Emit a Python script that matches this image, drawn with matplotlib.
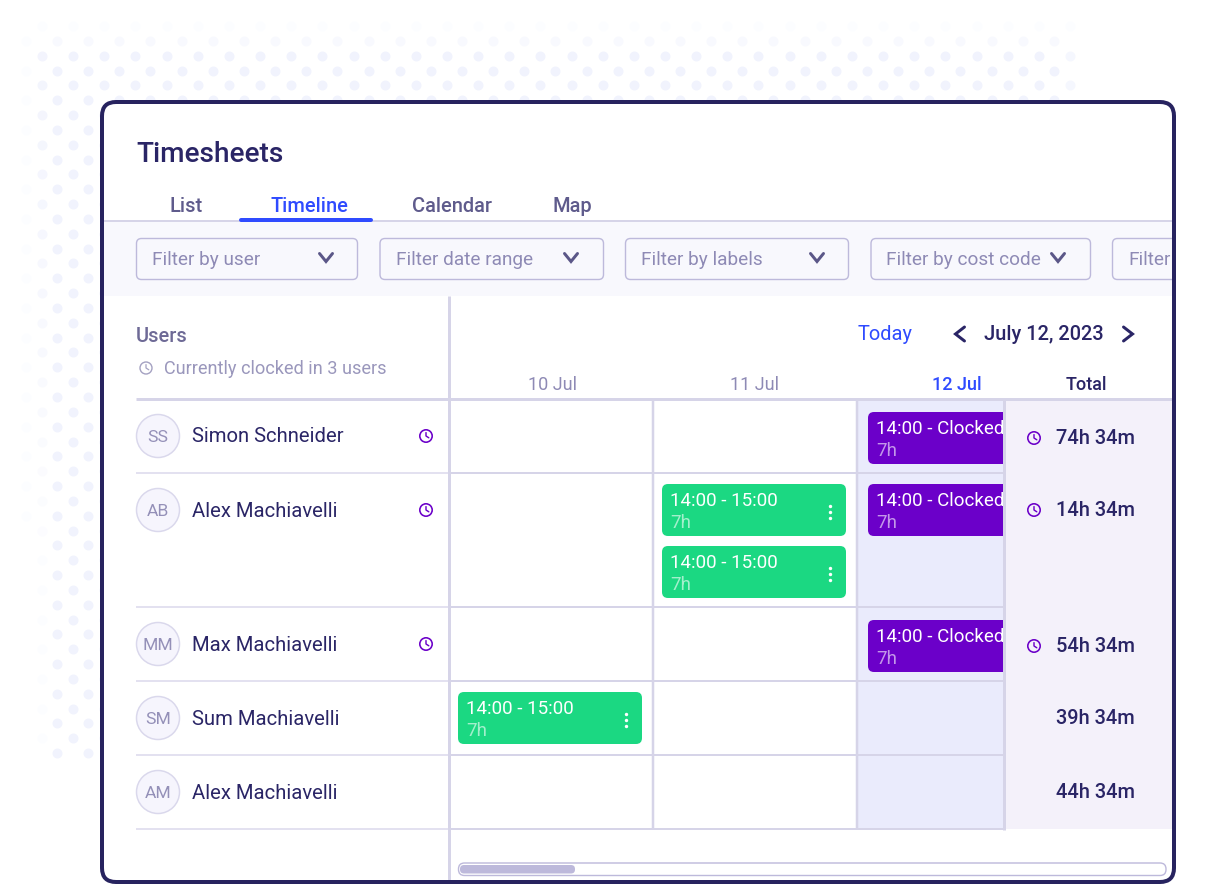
import matplotlib
matplotlib.use("Agg")
import matplotlib.pyplot as plt
from matplotlib.patches import FancyBboxPatch, Rectangle, Circle
from matplotlib.lines import Line2D
from matplotlib.transforms import Bbox, TransformedBbox

plt.rcParams['font.family'] = ['Roboto', 'DejaVu Sans']

# ---- content ----
title = "Timesheets"
tabs = ["List", "Timeline", "Calendar", "Map"]
active_tab = "Timeline"
filters = ["Filter by user", "Filter date range", "Filter by labels", "Filter by cost code", "Filter"]
users = ["Simon Schneider", "Alex Machiavelli", "Max Machiavelli", "Sum Machiavelli", "Alex Machiavelli"]
initials = ["SS", "AB", "MM", "SM", "AM"]
totals = ["74h 34m", "14h 34m", "54h 34m", "39h 34m", "44h 34m"]
clocked_in = [True, True, True, False, False]
days = ["10 Jul", "11 Jul", "12 Jul"]
today_day = "12 Jul"
date_label = "July 12, 2023"
green_label = "14:00 - 15:00"
purple_label = "14:00 - Clocked"
duration_label = "7h"

# ---- colours ----
NAVY = "#27235F"
INK = "#2A2566"
BLUE = "#2F4BFF"
TAB = "#5F5B8C"
MUTED = "#8E8AB5"
LINE = "#D6D4E8"
LINE2 = "#E3E1F0"
BOX = "#BDB9DB"
PANEL = "#F8F8FD"
PURPLE = "#6B00C9"
GREEN = "#1BD882"
TODAY_BG = "#EAEBFC"
TOTAL_BG = "#F4F1FA"

W, H = 1230, 884
fig = plt.figure(figsize=(W / 100, H / 100), dpi=100, facecolor="white")
ax = fig.add_axes([0, 0, 1, 1])
ax.set_xlim(0, W)
ax.set_ylim(H, 0)
ax.axis("off")


def pt(px):
    return px * 0.72


def rbox(x0, y0, x1, y1, r, fc="none", ec="none", lw=0, z=2, clip=None):
    p = FancyBboxPatch((x0 + r, y0 + r), x1 - x0 - 2 * r, y1 - y0 - 2 * r,
                       boxstyle=f"round,pad={r},rounding_size={r}",
                       fc=fc, ec=ec, lw=pt(lw), zorder=z)
    ax.add_patch(p)
    if clip is not None:
        p.set_clip_box(clip)
    return p


def rect(x0, y0, x1, y1, fc, z=1):
    ax.add_patch(Rectangle((x0, y0), x1 - x0, y1 - y0, fc=fc, ec="none", zorder=z))


def hline(y, x0, x1, c, lw, z=3):
    ax.add_line(Line2D([x0, x1], [y, y], color=c, lw=pt(lw), zorder=z, solid_capstyle="butt"))


def vline(x, y0, y1, c, lw, z=3):
    ax.add_line(Line2D([x, x], [y0, y1], color=c, lw=pt(lw), zorder=z, solid_capstyle="butt"))


def txt(x, y, s, px, c, ha="left", weight="normal", z=6, alpha=None, clip=None):
    t = ax.text(x, y, s, fontsize=pt(px), color=c, ha=ha, va="center_baseline",
                fontweight=weight, zorder=z, alpha=alpha)
    if clip is not None:
        t.set_clip_on(True)
        t.set_clip_box(clip)
    return t


def chevron(cx, cy, w, h, direction, c, lw=3):
    if direction == "down":
        xs, ys = [cx - w, cx, cx + w], [cy - h, cy + h, cy - h]
    elif direction == "left":
        xs, ys = [cx + h, cx - h, cx + h], [cy - w, cy, cy + w]
    else:
        xs, ys = [cx - h, cx + h, cx - h], [cy - w, cy, cy + w]
    ax.add_line(Line2D(xs, ys, color=c, lw=pt(lw), zorder=6,
                       solid_capstyle="round", solid_joinstyle="miter"))


def clock(cx, cy, c, r=6.2, lw=1.6):
    ax.add_patch(Circle((cx, cy), r, fc="none", ec=c, lw=pt(lw), zorder=6))
    ax.add_line(Line2D([cx, cx, cx + 2.8], [cy - 3.4, cy, cy + 1.8], color=c,
                       lw=pt(lw * 0.9), zorder=6, solid_capstyle="round"))


def kebab(cx, cy):
    ax.scatter([cx] * 3, [cy - 6, cy, cy + 6], s=pt(3.4) ** 2, c="white",
               linewidths=0, zorder=6)


# ---- dotted backdrop ----
for i in range(50):
    y = 26 + i * 14.84
    base = 42 if i % 2 == 0 else 57
    for j in range(-1, 34):
        x = base + j * 31.15
        if x > 1075 or x < 20:
            continue
        a = 1.0
        if i == 0:
            a = 0.2
        elif i == 1:
            a = 0.5
        if x < 30:
            a = min(a, 0.18)
        elif x < 45:
            a = min(a, 0.9 - 0.7 * (y - 40) / 520 if y < 560 else 0.2)
        if x > 1060:
            a = min(a, 0.7)
        if x < 30 and y > 520:
            continue
        r = 241 + (255 - 241) * (1 - a)
        g = 243 + (255 - 243) * (1 - a)
        b = 253 + (255 - 253) * (1 - a)
        ax.scatter([x], [y], s=pt(10) ** 2, color=(r / 255, g / 255, b / 255),
                   linewidths=0, zorder=0.5)

# ---- card ----
rbox(102, 102, 1174, 882, 14, fc="white", ec="none", z=1)
inner_box = TransformedBbox(Bbox([[104, 104], [1172, 880]]), ax.transData)

# header
txt(136, 152, title, 28, INK, weight=500)
for label, cx in zip(tabs, [186, 309, 452, 572]):
    on = label == active_tab
    txt(cx, 205, label, 20, BLUE if on else TAB, ha="center", weight=500)

# filter band
rect(104, 222, 1172, 296, PANEL, z=1.2)
hline(221, 104, 1172, LINE, 2)
ax.add_line(Line2D([241, 371], [220, 220], color=BLUE, lw=pt(4), zorder=4, solid_capstyle="round"))

boxes = [(136.5, 357.5), (380, 603.5), (625.5, 848.5), (871, 1090.5), (1112.5, 1230)]
chevs = [326, 571, 817, 1058, None]
for label, (x0, x1), ch in zip(filters, boxes, chevs):
    rbox(x0, 238.5, x1, 279.5, 5, fc=PANEL, ec=BOX, lw=1.4, z=2, clip=inner_box)
    txt(x0 + 15.5, 258.4, label, 19, MUTED, clip=inner_box)
    if ch is not None:
        chevron(ch, 257.5, 6.5, 4, "down", "#5B5788")

# table backgrounds
rect(858, 400, 1004, 829, TODAY_BG, z=1.2)
rect(1006, 400, 1172, 829, TOTAL_BG, z=1.2)

# left header
txt(136, 335, "Users", 20, "#6E6A96", weight=500)
clock(146, 368, "#A5A2C2", r=6, lw=1.4)
txt(164, 367.4, "Currently clocked in 3 users", 18.2, "#9A97BC")

# date navigation
txt(885, 333, "Today", 20, BLUE, ha="center")
chevron(960, 334, 7, 4.5, "left", INK)
chevron(1128, 334, 7, 4.5, "right", INK)
txt(1044, 333, date_label, 20, INK, ha="center", weight=500)
for label, cx in zip(days, [552, 754, 957]):
    on = label == today_day
    txt(cx, 383.4, label, 18, BLUE if on else MUTED, ha="center", weight=500 if on else "normal")
txt(1086, 383.4, "Total", 18, INK, ha="center", weight=500)

# grid lines
row_lines = [473, 607, 681, 755, 829]
hline(399, 136, 1172, LINE, 3)
for y in row_lines:
    hline(y, 136, 449, LINE2, 2)
    hline(y, 451, 1004, LINE, 2)
vline(449, 296, 880, LINE, 3, z=3.5)
for x in [653, 857]:
    vline(x, 400, 829, LINE, 2.5)
vline(1004, 400, 830, LINE, 3)

# users
avatar_y = [436, 510, 644, 718, 792]
name_y = [435, 509.5, 643.5, 717.5, 791.5]
total_y = [437, 509, 645, 717, 791]
clock_tot_y = [438, 510, 646, 718, 792]
for name, ini, tot, on, ya, yn, yt, yc in zip(users, initials, totals, clocked_in,
                                              avatar_y, name_y, total_y, clock_tot_y):
    ax.add_patch(Circle((158, ya), 21.5, fc="#F6F5FD", ec="#DAD8EC", lw=pt(1.5), zorder=4))
    txt(158, ya, ini, 17.5, "#9490B8", ha="center")
    txt(192, yn, name, 20.3, INK)
    txt(1056, yt, tot, 20, INK, weight=500)
    if on:
        clock(426, ya, PURPLE)
        clock(1034, yc, PURPLE)

# events
purple_clip = TransformedBbox(Bbox([[860, 400], [1003, 830]]), ax.transData)
for y0 in [412, 484, 620]:
    rbox(868, y0, 1020, y0 + 52, 6, fc=PURPLE, z=3, clip=purple_clip)
    txt(876.5, y0 + 15, purple_label, 18.8, "white", clip=purple_clip)
    txt(876.5, y0 + 37, duration_label, 18.8, "white", alpha=0.6, clip=purple_clip)

for x0, y0 in [(662, 484), (662, 546), (458, 692)]:
    rbox(x0, y0, x0 + 184, y0 + 52, 6, fc=GREEN, z=3)
    txt(x0 + 8.5, y0 + 15, green_label, 18.8, "white")
    txt(x0 + 8.5, y0 + 37, duration_label, 18.8, "white", alpha=0.6)
    kebab(x0 + 168, y0 + 28)

# scrollbar
rbox(458.5, 863, 1166, 875.5, 6, fc="white", ec=BOX, lw=1.4, z=3)
rbox(460, 865, 575, 873.5, 4, fc=BOX, z=4)

# card border on top
rbox(102, 102, 1174, 882, 14, fc="none", ec=NAVY, lw=4, z=8)

fig.savefig("out.png", dpi=100, facecolor="white")
